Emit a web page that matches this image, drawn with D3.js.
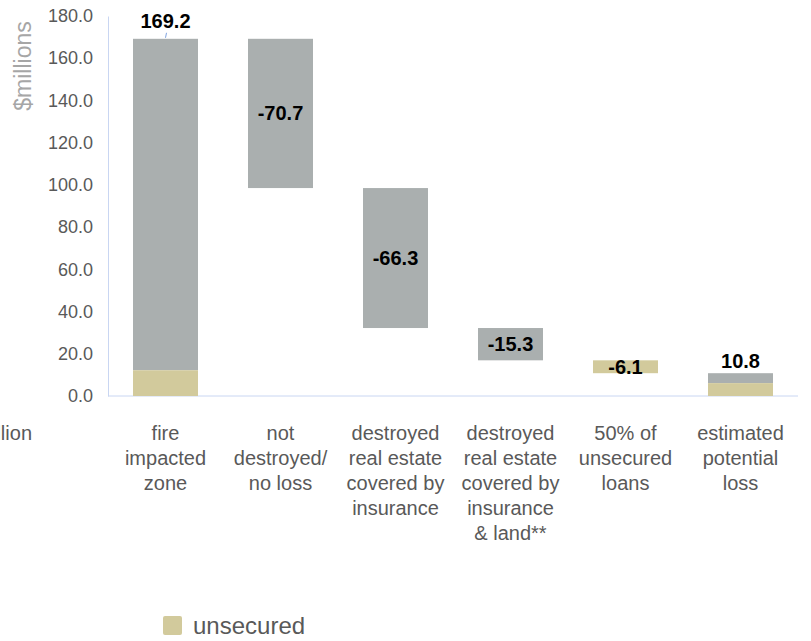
<!DOCTYPE html>
<meta charset="utf-8">
<script src="https://d3js.org/d3.v7.min.js"></script>
<style>
  body { margin: 0; background: #fff; }
  text { font-family: "Liberation Sans", Arial, sans-serif; }
</style>
<div id="chart"></div>
<script>

// categories (one line per entry)
var categories = [
  ["fire", "impacted", "zone"],
  ["not", "destroyed/", "no loss"],
  ["destroyed", "real estate", "covered by", "insurance"],
  ["destroyed", "real estate", "covered by", "insurance", "& land**"],
  ["50% of", "unsecured", "loans"],
  ["estimated", "potential", "loss"]
];
// "total" bars start at zero, "delta" bars float on the running total
var barTypes = ["total", "delta", "delta", "delta", "delta", "total"];
var values = [169.2, -70.7, -66.3, -15.3, -6.1, 10.8];
// unsecured part of each bar (drawn from the bottom of the bar)
var unsecured = [12.2, 0, 0, 0, 6.1, 6.1];
var yTicks = [0, 20, 40, 60, 80, 100, 120, 140, 160, 180];

var width = 811, height = 641;
var grey = "#aaafaf", tan = "#d2ca9c";
var fmt = function(v) { return d3.format(".1f")(v).replace("\u2212", "-"); };

var svg = d3.select("#chart").append("svg")
  .attr("width", width)
  .attr("height", height);

var x = d3.scaleBand()
  .domain(d3.range(categories.length))
  .range([108, 798])
  .paddingInner(0.435)
  .paddingOuter(0.2175);

var y = d3.scaleLinear()
  .domain([0, 180])
  .range([396, 16]);

// work out the floating bars
var running = 0;
var bars = values.map(function(v, i) {
  var lo, hi;
  if (barTypes[i] == "total") {
    lo = 0; hi = v; running = v;
  } else {
    hi = running; lo = running + v; running = lo;
  }
  return {i: i, lo: lo, hi: hi, u: unsecured[i], v: v, type: barTypes[i]};
});

// y axis
var yAxis = svg.append("g")
  .attr("transform", "translate(108,0)")
  .call(d3.axisLeft(y).tickValues(yTicks).tickFormat(fmt).tickSize(0).tickPadding(15));
yAxis.select(".domain").attr("stroke", "#c9d6f2");
yAxis.selectAll("text")
  .style("font-size", "18px")
  .attr("fill", "#595959")
  .style("font-family", "'Liberation Sans', Arial, sans-serif");

// x baseline
svg.append("line")
  .attr("x1", 108).attr("x2", 798)
  .attr("y1", y(0)).attr("y2", y(0))
  .attr("stroke", "#c9d6f2");

svg.append("text")
  .attr("transform", "translate(31,66) rotate(-90)")
  .attr("text-anchor", "middle")
  .style("font-size", "23px")
  .attr("fill", "#a6a6a6")
  .text("$millions");

// grey part
svg.selectAll(".g")
  .data(bars.filter(function(d) { return d.hi - d.lo > d.u; }))
  .enter().append("rect")
    .attr("x", function(d) { return x(d.i); })
    .attr("width", x.bandwidth())
    .attr("y", function(d) { return y(d.hi); })
    .attr("height", function(d) { return y(d.lo + d.u) - y(d.hi); })
    .attr("fill", grey);

// unsecured part
svg.selectAll(".t")
  .data(bars.filter(function(d) { return d.u > 0; }))
  .enter().append("rect")
    .attr("x", function(d) { return x(d.i); })
    .attr("width", x.bandwidth())
    .attr("y", function(d) { return y(Math.min(d.lo + d.u, d.hi)); })
    .attr("height", function(d) { return y(d.lo) - y(Math.min(d.lo + d.u, d.hi)); })
    .attr("fill", tan);

// leader line on the first label
svg.append("line")
  .attr("x1", x(0) + x.bandwidth() / 2 + 1).attr("x2", x(0) + x.bandwidth() / 2)
  .attr("y1", y(bars[0].hi) - 6).attr("y2", y(bars[0].hi) - 1)
  .attr("stroke", "#7fa3e0");

// value labels
svg.selectAll(".lbl")
  .data(bars)
  .enter().append("text")
    .attr("x", function(d) { return x(d.i) + x.bandwidth() / 2; })
    .attr("y", function(d) {
      if (d.type == "total") return y(d.hi) - (d.i == 0 ? 11 : 5);
      return y((d.lo + d.hi) / 2) + 7;
    })
    .attr("text-anchor", "middle")
    .style("font-size", "20px")
    .style("font-weight", "bold")
    .attr("fill", "#000")
    .text(function(d) { return fmt(d.v); });

// category labels
var cat = svg.selectAll(".cat")
  .data(categories)
  .enter().append("text")
    .attr("text-anchor", "middle")
    .style("font-size", "20px")
    .attr("fill", "#595959");
cat.selectAll("tspan")
  .data(function(d, i) { return d.map(function(s) { return {s: s, i: i}; }); })
  .enter().append("tspan")
    .attr("x", function(d) { return x(d.i) + x.bandwidth() / 2; })
    .attr("y", function(d, j) { return 440 + j * 25; })
    .text(function(d) { return d.s; });

// cut-off fragment on the left
svg.append("text")
  .attr("x", 32).attr("y", 440)
  .attr("text-anchor", "end")
  .style("font-size", "20px")
  .attr("fill", "#595959")
  .text("$ million");

// legend
svg.append("rect")
  .attr("x", 163).attr("y", 616)
  .attr("width", 19).attr("height", 19)
  .attr("rx", 2)
  .attr("fill", tan);
svg.append("text")
  .attr("x", 193).attr("y", 634)
  .style("font-size", "24px")
  .attr("fill", "#595959")
  .text("unsecured");

</script>
